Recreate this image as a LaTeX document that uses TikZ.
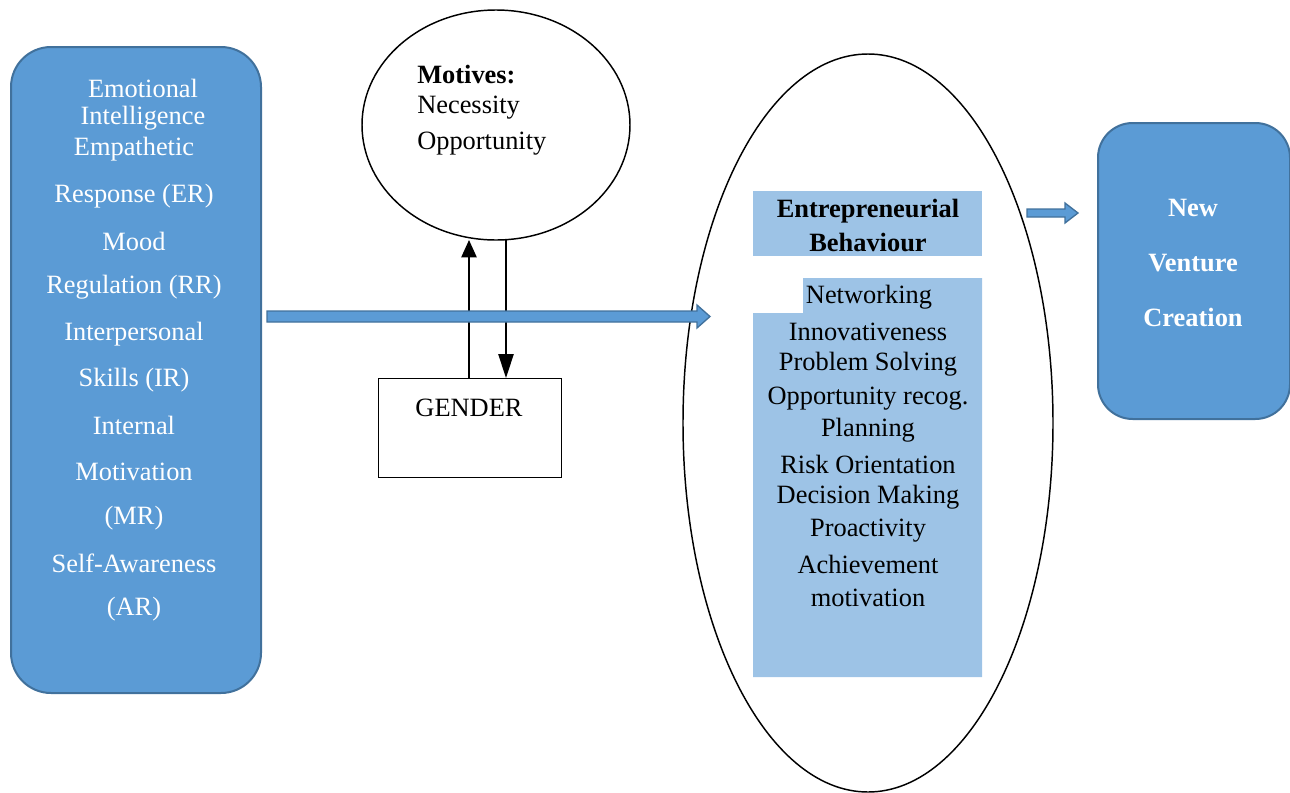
\documentclass[tikz,border=0pt]{standalone}
\usepackage{fontspec}
\setmainfont{Liberation Serif}
\usetikzlibrary{shapes.geometric,arrows.meta,calc}
\definecolor{obox}{HTML}{5B9BD5}
\definecolor{oedge}{HTML}{41719C}
\definecolor{lblue}{HTML}{9DC3E6}
\tikzset{
  bigbox/.style={draw=oedge, line width=1.5pt, fill=obox, rounded corners=30pt},
  wtxt/.style={text=white, font=\fontsize{19.8}{23}\selectfont, inner sep=0pt, yshift=-2pt},
  btxt/.style={text=black, font=\fontsize{19.8}{23}\selectfont, inner sep=0pt, yshift=-2pt},
  blockarrow/.style={draw=oedge, line width=1pt, fill=obox},
  thin/.style={draw=black, line width=1.1pt},
}
\begin{document}
\begin{tikzpicture}[x=0.75pt,y=-0.75pt]
\useasboundingbox (0,0) rectangle (1290,793);
% left box
\node[bigbox, minimum width=187.5pt, minimum height=484.5pt, anchor=north west] (ei) at (10,46) {};
\foreach \t/\x/\y in {Emotional/143/86, Intelligence/143/116, Empathetic/134/146, Response (ER)/134/193, Mood/134/239, Regulation (RR)/134/285, Interpersonal/134/331, Skills (IR)/134/377, Internal/134/423, Motivation/134/469, (MR)/134/515, Self-Awareness/134/561, (AR)/134/606}
  \node[wtxt] at (\x,\y) {\t};
% motives circle
\node[ellipse, thin, minimum width=201pt, minimum height=172.5pt] (mot) at (496,125) {};
\node[btxt, anchor=west] at (417,72) {\textbf{Motives:}};
\node[btxt, anchor=west] at (417,105) {Necessity};
\node[btxt, anchor=west] at (417,141) {Opportunity};
% gender box
\node[thin, rectangle, minimum width=137.25pt, minimum height=74.25pt, anchor=north west] (gen) at (378,378) {};
\node[btxt] at (469,405) {GENDER};
% up/down arrows
\coordinate (upb) at (469,378);
\coordinate (upt) at (469,240);
\coordinate (dnt) at (506,240);
\coordinate (dnb) at (506,378);
\draw[line width=1.1pt, -{Triangle[width=11.5pt,length=13pt]}] (upb) -- (upt);
\draw[line width=1.1pt, -{Triangle[width=11.5pt,length=18pt]}] (dnt) -- (dnb);
% big ellipse
\node[ellipse, thin, minimum width=277.5pt, minimum height=553.5pt] (eb) at (868,423) {};
% entrepreneurial behaviour header
\fill[lblue] (753,191) rectangle (982,256);
\node[btxt] (ebh) at (868,208) {\textbf{Entrepreneurial}};
\node[btxt] at (868,240) {\textbf{Behaviour}};
% list box with notch
\fill[lblue] (803,278) -- (982,278) -- (982,677) -- (753,677) -- (753,313) -- (803,313) -- cycle;
\foreach \t/\x/\y in {Networking/869/295, Innovativeness/868/329, Problem Solving/868/362, Opportunity recog./868/396, Planning/868/428, Risk Orientation/868/462, Decision Making/868/495, Proactivity/868/528, Achievement/868/562, motivation/868/595}
  \node[btxt] at (\x,\y) {\t};
% right box
\node[bigbox, rounded corners=26pt, minimum width=144pt, minimum height=222pt, anchor=north west] (nvc) at (1097,122) {};
\node[wtxt] at (1193,205) {\textbf{New}};
\node[wtxt] at (1193,260) {\textbf{Venture}};
\node[wtxt] at (1193,315) {\textbf{Creation}};
% big block arrow
\draw[blockarrow] (267,311) -- (697,311) -- (697,305) -- (710,316.5) -- (697,328) -- (697,322) -- (267,322) -- cycle;
% small block arrow
\draw[blockarrow] (1027,209) -- (1065,209) -- (1065,203) -- (1078,213) -- (1065,223) -- (1065,217) -- (1027,217) -- cycle;
\end{tikzpicture}
\end{document}
